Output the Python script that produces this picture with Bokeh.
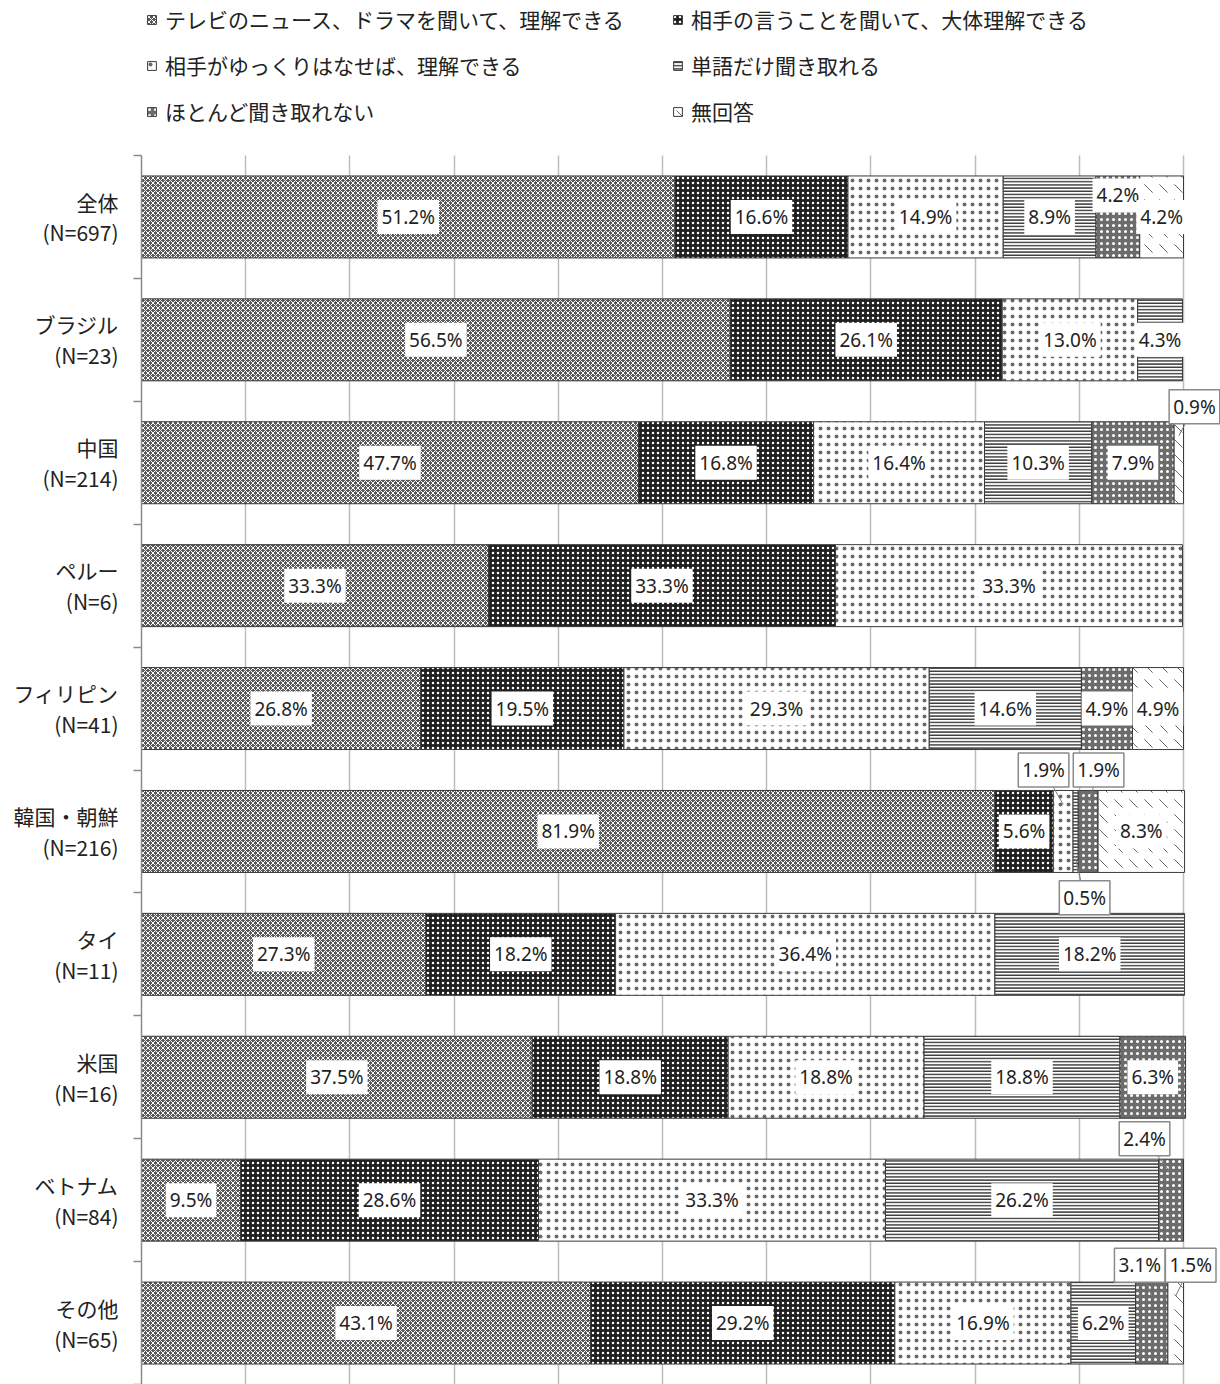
from bokeh.plotting import figure
from bokeh.models import Range1d, FixedTicker, Label, Legend, LegendItem, ColumnDataSource, Grid
from bokeh.embed import file_html
from bokeh.resources import INLINE

# ---------------- data ----------------
categories = ["全体", "ブラジル", "中国", "ペルー", "フィリピン", "韓国・朝鮮", "タイ", "米国", "ベトナム", "その他"]
n_counts = [697, 23, 214, 6, 41, 216, 11, 16, 84, 65]
series_names = [
    "テレビのニュース、ドラマを聞いて、理解できる",
    "相手の言うことを聞いて、大体理解できる",
    "相手がゆっくりはなせば、理解できる",
    "単語だけ聞き取れる",
    "ほとんど聞き取れない",
    "無回答",
]
tv_understand = [51.2, 56.5, 47.7, 33.3, 26.8, 81.9, 27.3, 37.5, 9.5, 43.1]
mostly_understand = [16.6, 26.1, 16.8, 33.3, 19.5, 5.6, 18.2, 18.8, 28.6, 29.2]
slowly_understand = [14.9, 13.0, 16.4, 33.3, 29.3, 1.9, 36.4, 18.8, 33.3, 16.9]
words_only = [8.9, 4.3, 10.3, 0.0, 14.6, 0.5, 18.2, 18.8, 26.2, 6.2]
hardly = [4.2, 0.0, 7.9, 0.0, 4.9, 1.9, 0.0, 6.3, 2.4, 3.1]
no_answer = [4.2, 0.0, 0.9, 0.0, 4.9, 8.3, 0.0, 0.0, 0.0, 1.5]

series_values = [tv_understand, mostly_understand, slowly_understand, words_only, hardly, no_answer]

# ---------------- styles ----------------
styles = [
    dict(fill_color="#5a5a5a", hatch_pattern="diagonal_cross", hatch_color="white", hatch_scale=5, hatch_weight=1),
    dict(fill_color="#202020", hatch_pattern="dot", hatch_color="white", hatch_scale=5, hatch_weight=1),
    dict(fill_color="white", hatch_pattern="dot", hatch_color="#6a6a6a", hatch_scale=8, hatch_weight=0.8),
    dict(fill_color="white", hatch_pattern="horizontal_line", hatch_color="#3a3a3a", hatch_scale=3.2, hatch_weight=1.6),
    dict(fill_color="#6c6c6c", hatch_pattern="dot", hatch_color="white", hatch_scale=6, hatch_weight=1),
    dict(fill_color="white", hatch_pattern="left_diagonal_dash", hatch_color="#666666", hatch_scale=15, hatch_weight=1),
]
# callout labels: (category index, series index) -> (dx, dy) in data units, bordered, with leader
callouts = {
    (2, 5): (1.5, -0.456),
    (5, 2): (-1.88, -0.50),
    (5, 3): (0.86, 0.54),
    (5, 4): (1.0, -0.50),
    (8, 4): (-2.54, -0.50),
    (9, 4): (-1.15, -0.47),
    (9, 5): (1.44, -0.47),
}
# plain shifted labels (no border)
shifted = {
    (0, 4): (0.0, -0.175),
}

FONT_JP = "Noto Sans CJK JP"
FONT_NUM = "Noto Sans"

# frame covers the legend area too (top of the y range lies above the first bar band)
Y_TOP = -1.2612
p = figure(width=1220, height=1384, x_range=Range1d(0, 103.55), y_range=Range1d(10, Y_TOP),
           x_axis_location=None, output_backend="svg", toolbar_location=None,
           min_border_left=141, min_border_right=0, min_border_top=0, min_border_bottom=0)
p.outline_line_color = None
p.background_fill_color = "white"
p.ygrid.visible = False
xg = p.xgrid[0]
xg.ticker = FixedTicker(ticks=list(range(0, 101, 10)))
xg.grid_line_color = "#bdbdbd"
xg.grid_line_width = 1.5
has_cross_bounds = "cross_bounds" in Grid.properties()
if has_cross_bounds:
    xg.cross_bounds = (0, 10)

ys = [i + 0.5 for i in range(len(categories))]
yax = p.yaxis[0]
yax.bounds = (0, 10)
yax.ticker = FixedTicker(ticks=ys, minor_ticks=list(range(0, len(categories) + 1)))
yax.major_label_overrides = {y: f"{c}\n(N={n})" for y, c, n in zip(ys, categories, n_counts)}
yax.major_tick_line_color = None
yax.minor_tick_in = 0
yax.minor_tick_out = 8
yax.minor_tick_line_color = "#8a8a8a"
yax.minor_tick_line_width = 1.5
yax.axis_line_color = "#8a8a8a"
yax.axis_line_width = 1.5
yax.major_label_standoff = 15
yax.major_label_text_font = FONT_JP
yax.major_label_text_font_size = "21px"
yax.major_label_text_color = "#222222"
yax.major_label_text_line_height = 1.03

if not has_cross_bounds:
    # white mask over the legend area so the grid stays within the bar bands
    p.quad(left=[0], right=[103.55], top=[Y_TOP], bottom=[0], fill_color="white", line_color=None)

renderers = []
left = [0.0] * len(categories)
bar_h = 0.667
leader_x0, leader_y0, leader_x1, leader_y1 = [], [], [], []
for k, (vals, st) in enumerate(zip(series_values, styles)):
    right = [l + v for l, v in zip(left, vals)]
    keep = [i for i, v in enumerate(vals) if v > 0]
    src = ColumnDataSource(dict(y=[ys[i] for i in keep], left=[left[i] for i in keep],
                                right=[right[i] for i in keep]))
    r = p.hbar(y="y", left="left", right="right", height=bar_h, source=src,
               line_color="#3a3a3a", line_width=1, **st)
    renderers.append(r)
    for i in keep:
        cx = (left[i] + right[i]) / 2
        cy = ys[i]
        border = None
        dx, dy = 0.0, 0.0
        if (i, k) in callouts:
            dx, dy = callouts[(i, k)]
            border = "#8a8a8a"
            sgn = -1 if dy < 0 else 1
            leader_x0.append(cx)
            leader_y0.append(cy + sgn * 0.22)
            leader_x1.append(cx + dx)
            leader_y1.append(cy + dy)
        elif (i, k) in shifted:
            dx, dy = shifted[(i, k)]
        lab = Label(x=cx + dx, y=cy + dy, text=f"{vals[i]:.1f}%", text_align="center",
                    text_baseline="middle", text_font=FONT_NUM, text_font_size="19px",
                    text_color="#222222", background_fill_color="white",
                    border_line_color=border, border_line_width=1.5, padding=4)
        p.add_layout(lab)
    left = right

p.segment(x0=leader_x0, y0=leader_y0, x1=leader_x1, y1=leader_y1, line_color="#7a7a7a", line_width=1)

legend = Legend(items=[LegendItem(label=name, renderers=[r]) for name, r in zip(series_names, renderers)],
                orientation="horizontal", ncols=2, location=(5, 1258),
                glyph_width=11, glyph_height=11, label_standoff=8, spacing=16, padding=5, margin=0,
                border_line_color=None, background_fill_alpha=0, label_height=30, label_width=491,
                label_text_font=FONT_JP, label_text_font_size="21px", label_text_color="#222222")
p.add_layout(legend)

open("out.html", "w").write(file_html(p, INLINE))
